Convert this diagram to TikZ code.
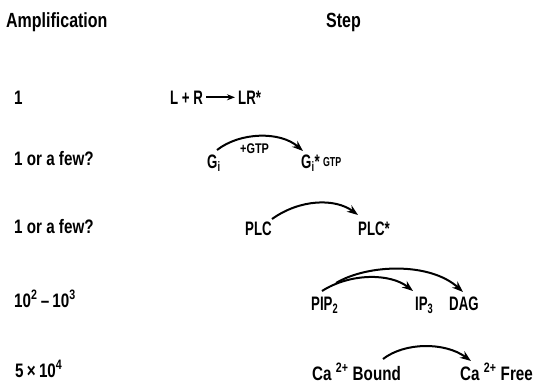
\documentclass[tikz,border=0pt]{standalone}
\usepackage{fontspec}
\setmainfont{Liberation Sans}[FakeStretch=0.78]
\newfontfamily\condensed{Liberation Sans}[FakeStretch=0.68]
\usetikzlibrary{arrows.meta,calc}
\tikzset{
  lbl/.style={inner sep=0pt, anchor=base west, font=\fontsize{19.5}{21}\selectfont\bfseries},
  chem/.style={inner sep=0pt, anchor=base west, font=\condensed\fontsize{19.5}{21}\selectfont\bfseries},
  head/.style={lbl, font=\fontsize{20.5}{22}\selectfont\bfseries},
  small/.style={inner sep=0pt, anchor=base west, font=\fontsize{14}{15}\selectfont\bfseries},
  arr/.style={line width=2pt, -{Stealth[length=11pt,width=8pt]}},
  shortarr/.style={line width=1.8pt, -{Stealth[length=8pt,width=6pt]}}
}
\newcommand{\gtptag}{{\fontsize{13}{14}\selectfont\raisebox{2pt}{GTP}}}
\begin{document}
\begin{tikzpicture}[x=1pt,y=-1pt]
\useasboundingbox (0,0) rectangle (536,389);
% column headings
\node[head] (hamp) at (6,27) {Amplification};
\node[head] (hstep) at (326,27) {Step};
% amplification factors
\node[lbl] (a1) at (14,104) {1};
\node[lbl] (a2) at (14,165) {1 or a few?};
\node[lbl] (a3) at (14,233) {1 or a few?};
\node[lbl] (a4) at (14,307) {10\textsuperscript{2}\,--\,10\textsuperscript{3}};
\node[lbl] (a5) at (15,377) {5\,×\,10\textsuperscript{4}};
% step 1: ligand binding
\node[chem] (lrl) at (170,104) {L + R};
\node[chem] (lrp) at (238,104) {LR*};
\draw[shortarr] ([xshift=3pt]lrl.east) -- ([xshift=-3pt]lrp.west);
% step 2: G protein activation
\node[chem] (gi) at (207,168) {G\textsubscript{i}};
\node[small] (gtp) at (240,153) {+GTP};
\node[chem] (gia) at (301,168) {G\textsubscript{i}*\,\gtptag};
\draw[arr] ($(gi.base west)+(10,-18)$) .. controls (240,132) and (280,131) .. ($(gia.base west)+(2,-17)$);
% step 3: phospholipase C activation
\node[chem] (plc) at (245,235) {PLC};
\node[chem] (plca) at (358,235) {PLC*};
\draw[arr] ($(plc.base west)+(27,-16)$) .. controls (300,199) and (335,198) .. ($(plca.base west)+(0,-20)$);
% step 4: PIP2 hydrolysis
\node[chem] (pip) at (311,310) {PIP\textsubscript{2}};
\node[chem] (ip) at (415,310) {IP\textsubscript{3}};
\node[chem] (dag) at (449,310) {DAG};
\draw[arr] ($(pip.base west)+(11,-19)$) .. controls (350,273) and (390,273) .. ($(ip.base west)+(-2,-19)$);
\draw[arr] ($(pip.base west)+(25,-27)$) .. controls (368,264) and (430,262) .. ($(dag.base west)+(14,-18)$);
% step 5: calcium release
\node[lbl] (cab) at (312,380) {Ca \textsuperscript{2+} Bound};
\node[lbl] (caf) at (460,380) {Ca \textsuperscript{2+} Free};
\draw[arr] ($(cab.base west)+(71,-21)$) .. controls (405,342) and (445,342) .. ($(caf.base west)+(11,-19)$);
\end{tikzpicture}
\end{document}
